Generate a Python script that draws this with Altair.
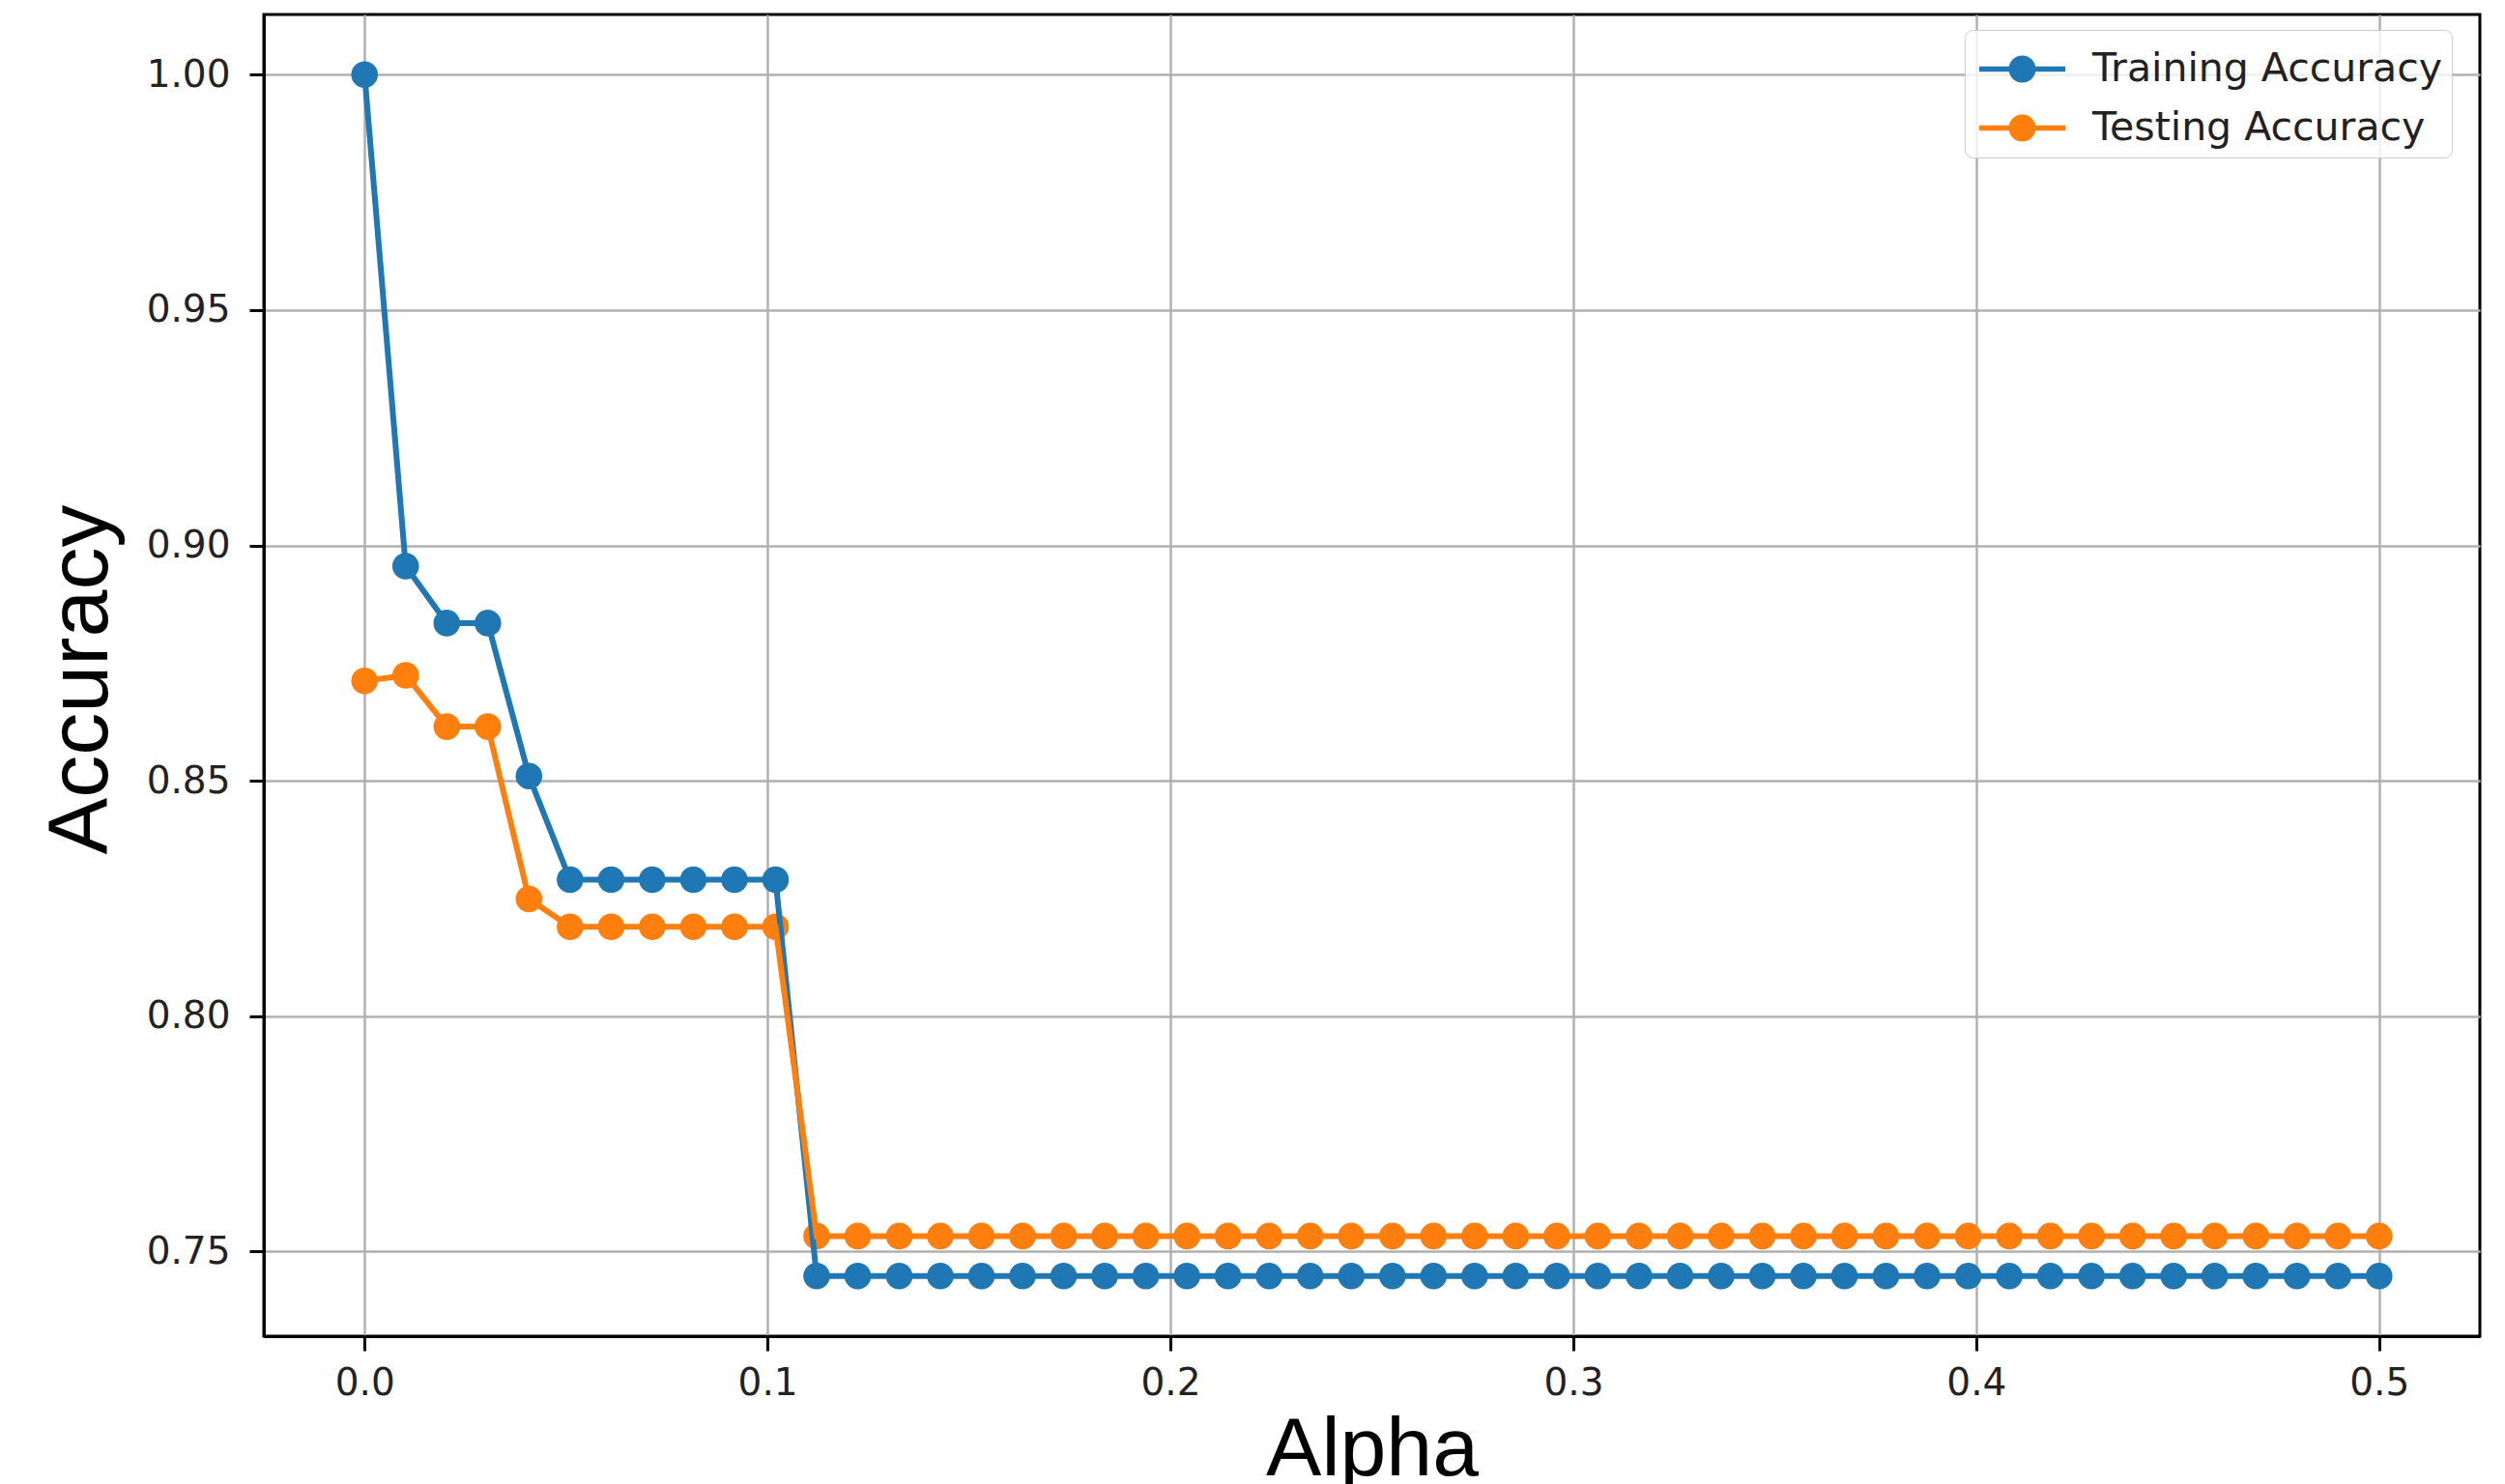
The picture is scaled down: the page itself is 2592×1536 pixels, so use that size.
import altair as alt
import pandas as pd

# Regularisation strengths that were swept
alpha = [
    0.0, 0.0102, 0.0204, 0.0306, 0.0408, 0.0510, 0.0612, 0.0714, 0.0816, 0.0918,
    0.1020, 0.1122, 0.1224, 0.1327, 0.1429, 0.1531, 0.1633, 0.1735, 0.1837, 0.1939,
    0.2041, 0.2143, 0.2245, 0.2347, 0.2449, 0.2551, 0.2653, 0.2755, 0.2857, 0.2959,
    0.3061, 0.3163, 0.3265, 0.3367, 0.3469, 0.3571, 0.3673, 0.3776, 0.3878, 0.3980,
    0.4082, 0.4184, 0.4286, 0.4388, 0.4490, 0.4592, 0.4694, 0.4796, 0.4898, 0.5,
]

train_acc = [
    1.0, 0.8956, 0.8835, 0.8835, 0.8510, 0.8290, 0.8290, 0.8290, 0.8290, 0.8290,
    0.8290, 0.7448, 0.7448, 0.7448, 0.7448, 0.7448, 0.7448, 0.7448, 0.7448, 0.7448,
    0.7448, 0.7448, 0.7448, 0.7448, 0.7448, 0.7448, 0.7448, 0.7448, 0.7448, 0.7448,
    0.7448, 0.7448, 0.7448, 0.7448, 0.7448, 0.7448, 0.7448, 0.7448, 0.7448, 0.7448,
    0.7448, 0.7448, 0.7448, 0.7448, 0.7448, 0.7448, 0.7448, 0.7448, 0.7448, 0.7448,
]

test_acc = [
    0.8712, 0.8724, 0.8615, 0.8615, 0.8249, 0.8190, 0.8190, 0.8190, 0.8190, 0.8190,
    0.8190, 0.7533, 0.7533, 0.7533, 0.7533, 0.7533, 0.7533, 0.7533, 0.7533, 0.7533,
    0.7533, 0.7533, 0.7533, 0.7533, 0.7533, 0.7533, 0.7533, 0.7533, 0.7533, 0.7533,
    0.7533, 0.7533, 0.7533, 0.7533, 0.7533, 0.7533, 0.7533, 0.7533, 0.7533, 0.7533,
    0.7533, 0.7533, 0.7533, 0.7533, 0.7533, 0.7533, 0.7533, 0.7533, 0.7533, 0.7533,
]

series_names = ["Training Accuracy", "Testing Accuracy"]
series_colors = ["#1f77b4", "#ff7f0e"]
x_ticks = [0.0, 0.1, 0.2, 0.3, 0.4, 0.5]
y_ticks = [0.75, 0.80, 0.85, 0.90, 0.95, 1.00]

df = pd.concat([
    pd.DataFrame({"alpha": alpha, "accuracy": train_acc, "series": series_names[0]}),
    pd.DataFrame({"alpha": alpha, "accuracy": test_acc, "series": series_names[1]}),
])

# line-with-marker legend glyph: two bars either side of a dot
legend_glyph = (
    "M-1.46,-0.09 L-0.40,-0.09 L-0.40,0.09 L-1.46,0.09 Z "
    "M0.40,-0.09 L1.46,-0.09 L1.46,0.09 L0.40,0.09 Z "
    "M0.46,0 A0.46,0.46 0 1,1 -0.46,0 A0.46,0.46 0 1,1 0.46,0 Z"
)

x_enc = alt.X(
    "alpha:Q",
    scale=alt.Scale(domain=[-0.025, 0.525], nice=False, zero=False),
    axis=alt.Axis(
        title="Alpha", values=x_ticks, format=".1f",
        titleY=143, titleBaseline="alphabetic",
    ),
)
y_enc = alt.Y(
    "accuracy:Q",
    scale=alt.Scale(domain=[0.73204, 1.01276], nice=False, zero=False),
    axis=alt.Axis(
        title="Accuracy", values=y_ticks, format=".2f",
        titleX=-163, titleY=688, titleAngle=270, titleBaseline="alphabetic",
        titleAlign="center", titleFontSize=88,
    ),
)
color_enc = alt.Color(
    "series:N",
    sort=series_names,
    scale=alt.Scale(domain=series_names, range=series_colors),
    legend=alt.Legend(
        title=None,
        orient="none",
        legendX=1760,
        legendY=16,
        symbolType=legend_glyph,
        symbolSize=3721,
        symbolStrokeWidth=0,
        symbolOffset=19,
        labelOffset=42,
        labelFont="DejaVu Sans",
        labelFontSize=41,
        labelColor="#222222",
        labelLimit=0,
        padding=10,
        rowPadding=10,
        fillColor="rgba(255,255,255,0.8)",
        strokeColor="#cccccc",
        cornerRadius=8,
    ),
)

points = alt.Chart(df).mark_point(filled=True, size=760, opacity=1).encode(
    x=x_enc, y=y_enc, color=color_enc, order=alt.Order("alpha:Q")
)
lines = alt.Chart(df).mark_line(strokeWidth=6).encode(
    x=x_enc, y=y_enc, color=color_enc, order=alt.Order("alpha:Q")
)

chart = (
    alt.layer(points, lines)
    .properties(
        width=2293,
        height=1368,
        autosize=alt.AutoSizeParams(type="none"),
        padding={"left": 273, "top": 15, "right": 26, "bottom": 153},
        background="white",
    )
    .configure_view(stroke="black", strokeWidth=3)
    .configure_axis(
        grid=True,
        gridColor="#b0b0b0",
        gridWidth=2.5,
        domainColor="black",
        domainWidth=3,
        tickColor="black",
        tickWidth=3,
        tickSize=15,
        labelFont="DejaVu Sans",
        labelFontSize=39,
        labelColor="#222222",
        titleFont="Liberation Sans",
        titleFontSize=86,
        titleFontWeight="normal",
        titleColor="black",
    )
    .configure_axisX(labelPadding=14)
    .configure_axisY(labelPadding=20)
)

chart.save("out.html", embed_options={"renderer": "svg", "actions": False})
